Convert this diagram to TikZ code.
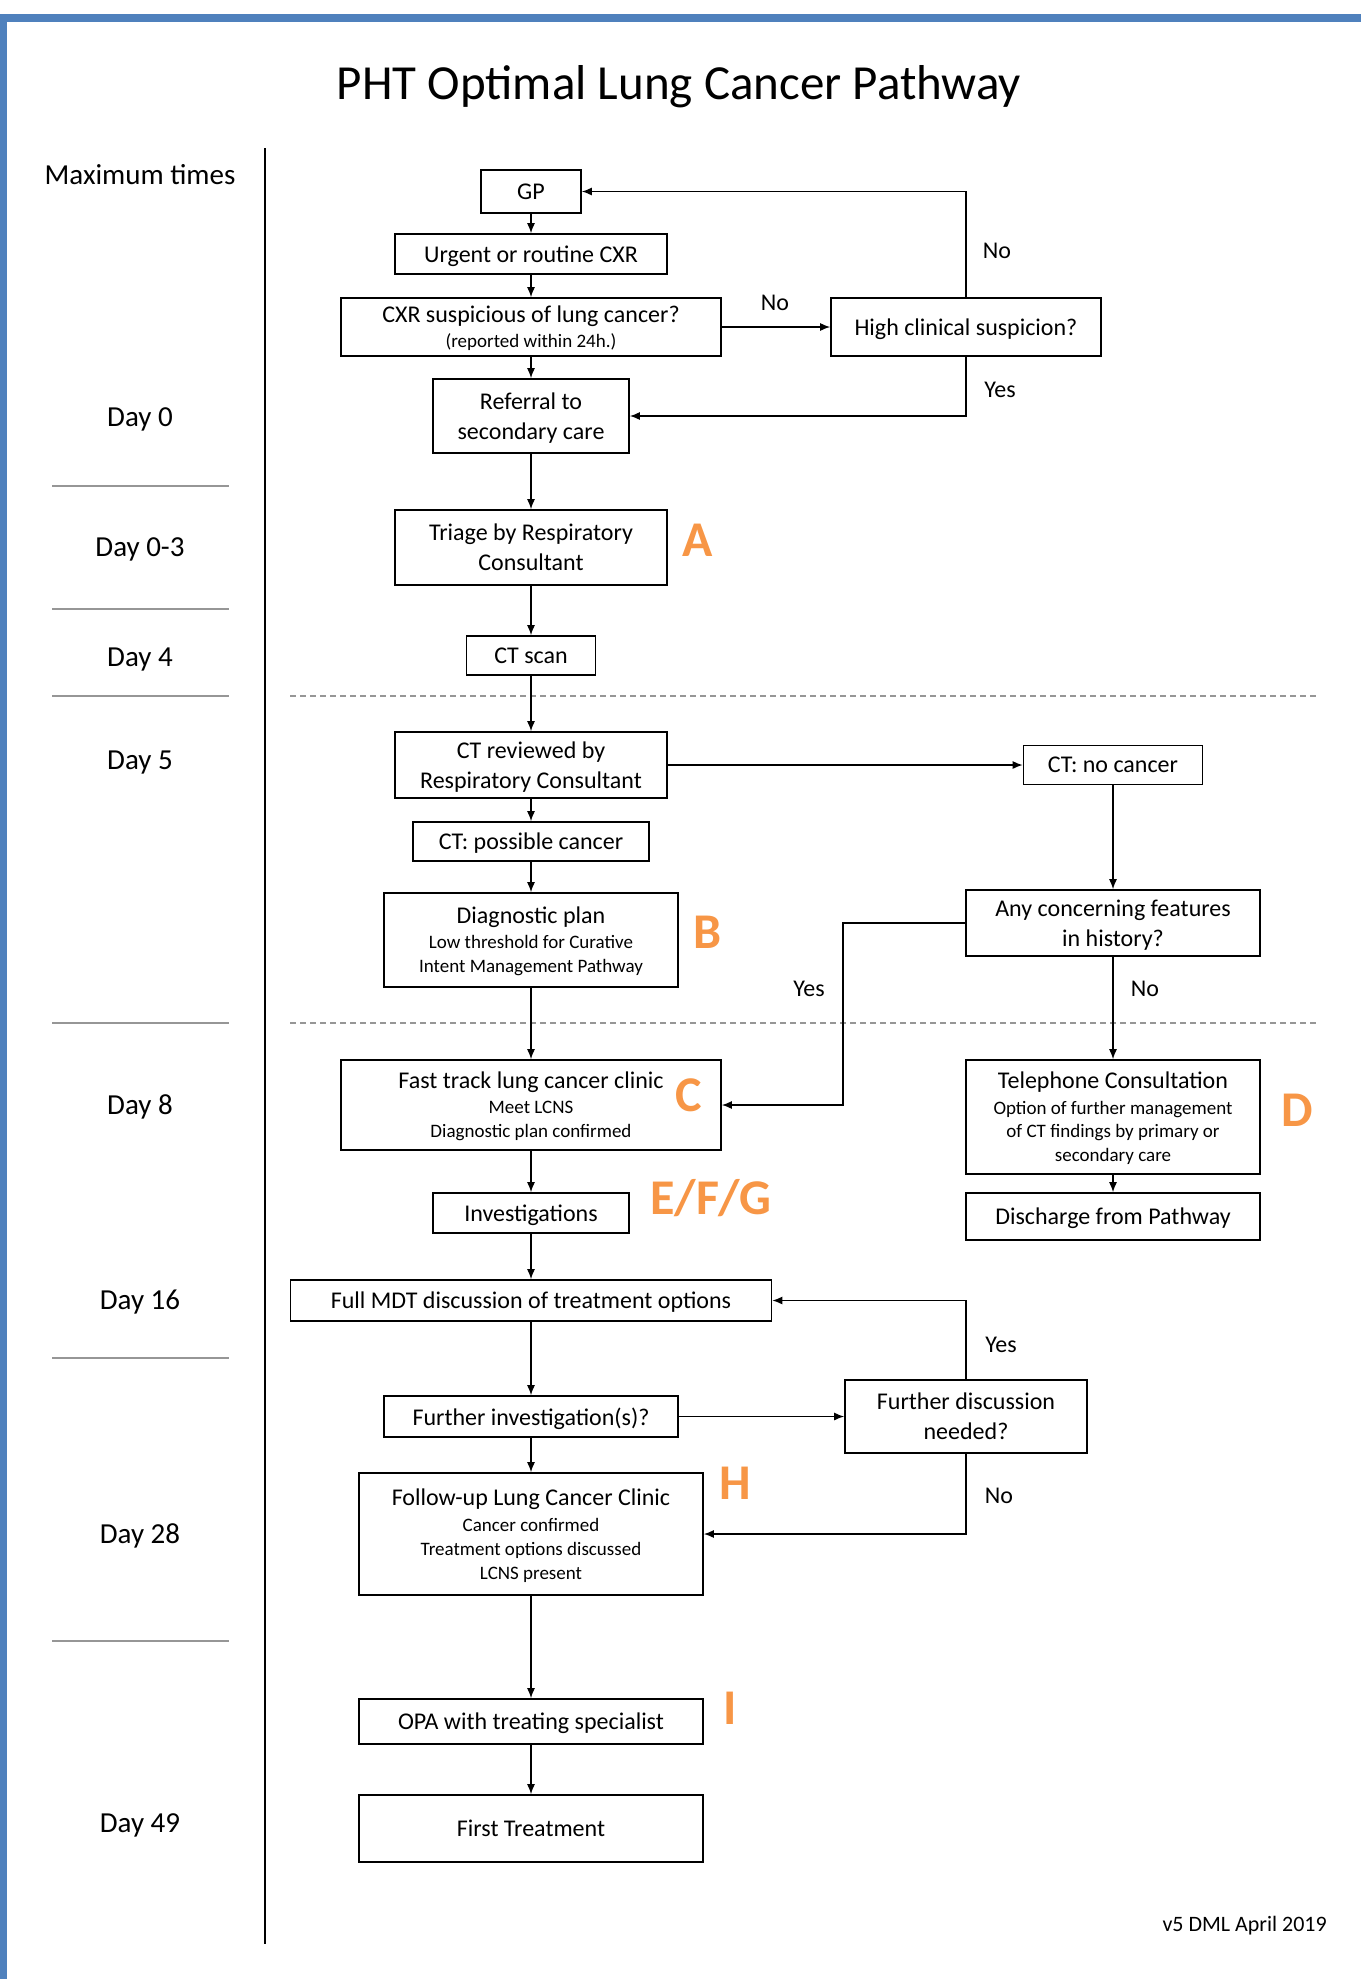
\documentclass[tikz,border=0pt]{standalone}
\usepackage{fontspec}
\setmainfont{Carlito}
\usetikzlibrary{arrows.meta}
\definecolor{pblue}{RGB}{79,129,189}
\definecolor{porange}{RGB}{247,150,70}
\definecolor{dgray}{RGB}{150,150,150}
\newcommand{\mainsz}{\fontsize{24}{30}\selectfont}
\newcommand{\smallsz}{\fontsize{19}{24}\selectfont}
\tikzset{
  box/.style={draw, line width=1.6pt, inner sep=0pt, align=center, font=\mainsz, text depth=0pt},
  arr/.style={line width=1.4pt, -{Latex[length=10pt,width=8pt]}},
  lbl/.style={font=\mainsz, inner sep=0pt, text depth=0pt},
  day/.style={font=\fontsize{29}{34}\selectfont, inner sep=0pt, text depth=0pt},
  letter/.style={font=\fontsize{50}{56}\selectfont\bfseries, text=porange, inner sep=0pt},
  sepline/.style={draw=dgray, line width=1.6pt},
  dashline/.style={draw=dgray, line width=1.6pt, dash pattern=on 6pt off 4pt},
}
\begin{document}
\begin{tikzpicture}[x=1pt,y=-1pt]
\useasboundingbox (0,0) rectangle (1361,1979);
% border
\fill[pblue] (0,14) rectangle (1361,22);
\fill[pblue] (0,14) rectangle (7,1979);
% title
\node[font=\fontsize{49}{56}\selectfont, inner sep=0pt, text depth=0pt] (title) at (679,82) {PHT Optimal Lung Cancer Pathway};
% timeline
\draw[line width=2pt] (265,148) -- (265,1944);
\node[day] (mt) at (140,174) {Maximum times};
\node[day] (d0) at (140,417) {Day 0};
\node[day] (d03) at (140,547) {Day 0-3};
\node[day] (d4) at (140,657) {Day 4};
\node[day] (d5) at (140,760) {Day 5};
\node[day] (d8) at (140,1105) {Day 8};
\node[day] (d16) at (140,1300) {Day 16};
\node[day] (d28) at (140,1534) {Day 28};
\node[day] (d49) at (140,1823) {Day 49};
\foreach \yy in {486,609,696,1023,1358,1641} \draw[sepline] (52,\yy) -- (229,\yy);
\draw[dashline] (290,696) -- (1319,696);
\draw[dashline] (290,1023) -- (1319,1023);
% nodes
\node[box, minimum width=100pt, minimum height=43pt] (gp) at (531,191.5) {GP};
\node[box, minimum width=272pt, minimum height=40pt] (urg) at (531,254) {Urgent or routine CXR};
\node[box, minimum width=380pt, minimum height=58pt] (cxr) at (531,327) {CXR suspicious of lung cancer?\\[-5pt]{\smallsz (reported within 24h.)}};
\node[box, minimum width=270pt, minimum height=58pt] (high) at (966,327) {High clinical suspicion?};
\node[box, minimum width=196pt, minimum height=74pt] (ref) at (531,416) {Referral to\\secondary care};
\node[box, minimum width=272pt, minimum height=75pt] (tri) at (531,547.5) {Triage by Respiratory\\Consultant};
\node[box, minimum width=129pt, minimum height=39pt] (cts) at (531,655.5) {CT scan};
\node[box, minimum width=272pt, minimum height=66pt] (ctr) at (531,765) {CT reviewed by\\Respiratory Consultant};
\node[box, minimum width=179pt, minimum height=39pt] (ctn) at (1113,765) {CT: no cancer};
\node[box, minimum width=236pt, minimum height=39pt] (ctp) at (531,841.5) {CT: possible cancer};
\node[box, minimum width=294pt, minimum height=94pt] (dp) at (531,940) {Diagnostic plan\\[-5pt]{\smallsz Low threshold for Curative}\\[-6pt]{\smallsz Intent Management Pathway}};
\node[box, minimum width=294pt, minimum height=66pt] (conc) at (1113,923) {Any concerning features\\in history?};
\node[box, minimum width=380pt, minimum height=90pt] (ft) at (531,1105) {Fast track lung cancer clinic\\[-5pt]{\smallsz Meet LCNS}\\[-6pt]{\smallsz Diagnostic plan confirmed}};
\node[box, minimum width=294pt, minimum height=114pt] (tel) at (1113,1117) {Telephone Consultation\\[-4pt]{\smallsz Option of further management}\\[-7pt]{\smallsz of CT findings by primary or}\\[-6pt]{\smallsz secondary care}};
\node[box, minimum width=294pt, minimum height=47pt] (dis) at (1113,1216.5) {Discharge from Pathway};
\node[box, minimum width=196pt, minimum height=40pt] (inv) at (531,1213) {Investigations};
\node[box, minimum width=481pt, minimum height=41pt] (mdt) at (531,1300.5) {Full MDT discussion of treatment options};
\node[box, minimum width=294pt, minimum height=41pt] (finv) at (531,1416.5) {Further investigation(s)?};
\node[box, minimum width=242pt, minimum height=73pt] (fdisc) at (966,1416.5) {Further discussion\\needed?};
\node[box, minimum width=344pt, minimum height=122pt] (fu) at (531,1534) {Follow-up Lung Cancer Clinic\\[-4pt]{\smallsz Cancer confirmed}\\[-6pt]{\smallsz Treatment options discussed}\\[-6pt]{\smallsz LCNS present}};
\node[box, minimum width=344pt, minimum height=45pt] (opa) at (531,1721.5) {OPA with treating specialist};
\node[box, minimum width=344pt, minimum height=67pt] (first) at (531,1828.5) {First Treatment};
% letters
\node[letter] (la) at (698,540) {A};
\node[letter] (lb) at (708,932) {B};
\node[letter] (lc) at (689,1095) {C};
\node[letter] (ld) at (1297,1110) {D};
\node[letter] (lefg) at (711,1198) {E/F/G};
\node[letter] (lh) at (735,1483) {H};
\node[letter] (li) at (730,1708) {I};
% connectors
\draw[arr] (gp.south) -- (urg.north);
\draw[arr] (urg.south) -- (cxr.north);
\draw[arr] (cxr.east) -- (high.west);
\draw[arr] (high.north) |- (gp.east);
\draw[arr] (cxr.south) -- (ref.north);
\draw[arr] (high.south) |- (ref.east);
\draw[arr] (ref.south) -- (tri.north);
\draw[arr] (tri.south) -- (cts.north);
\draw[arr] (cts.south) -- (ctr.north);
\draw[arr] (ctr.east) -- (ctn.west);
\draw[arr] (ctr.south) -- (ctp.north);
\draw[arr] (ctp.south) -- (dp.north);
\draw[arr] (ctn.south) -- (conc.north);
\draw[arr] (dp.south) -- (ft.north);
\coordinate (yesbend) at (843,923);
\draw[arr] (conc.west) -- (yesbend) |- (ft.east);
\draw[arr] (conc.south) -- (tel.north);
\draw[arr] (tel.south) -- (dis.north);
\draw[arr] (ft.south) -- (inv.north);
\draw[arr] (inv.south) -- (mdt.north);
\draw[arr] (mdt.south) -- (finv.north);
\draw[arr] (finv.east) -- (fdisc.west);
\draw[arr] (fdisc.north) |- (mdt.east);
\draw[arr] (fdisc.south) |- (fu.east);
\draw[arr] (finv.south) -- (fu.north);
\draw[arr] (fu.south) -- (opa.north);
\draw[arr] (opa.south) -- (first.north);
% labels
\node[lbl] (l1) at (775,303) {No};
\node[lbl] (l2) at (997,251) {No};
\node[lbl] (l3) at (1000,390) {Yes};
\node[lbl] (l4) at (809,989) {Yes};
\node[lbl] (l5) at (1145,989) {No};
\node[lbl] (l6) at (1001,1345) {Yes};
\node[lbl] (l7) at (999,1496) {No};
% footer
\node[font=\fontsize{22}{26}\selectfont, inner sep=0pt, text depth=0pt, anchor=east] (foot) at (1327,1924) {v5 DML April 2019};
\end{tikzpicture}
\end{document}
